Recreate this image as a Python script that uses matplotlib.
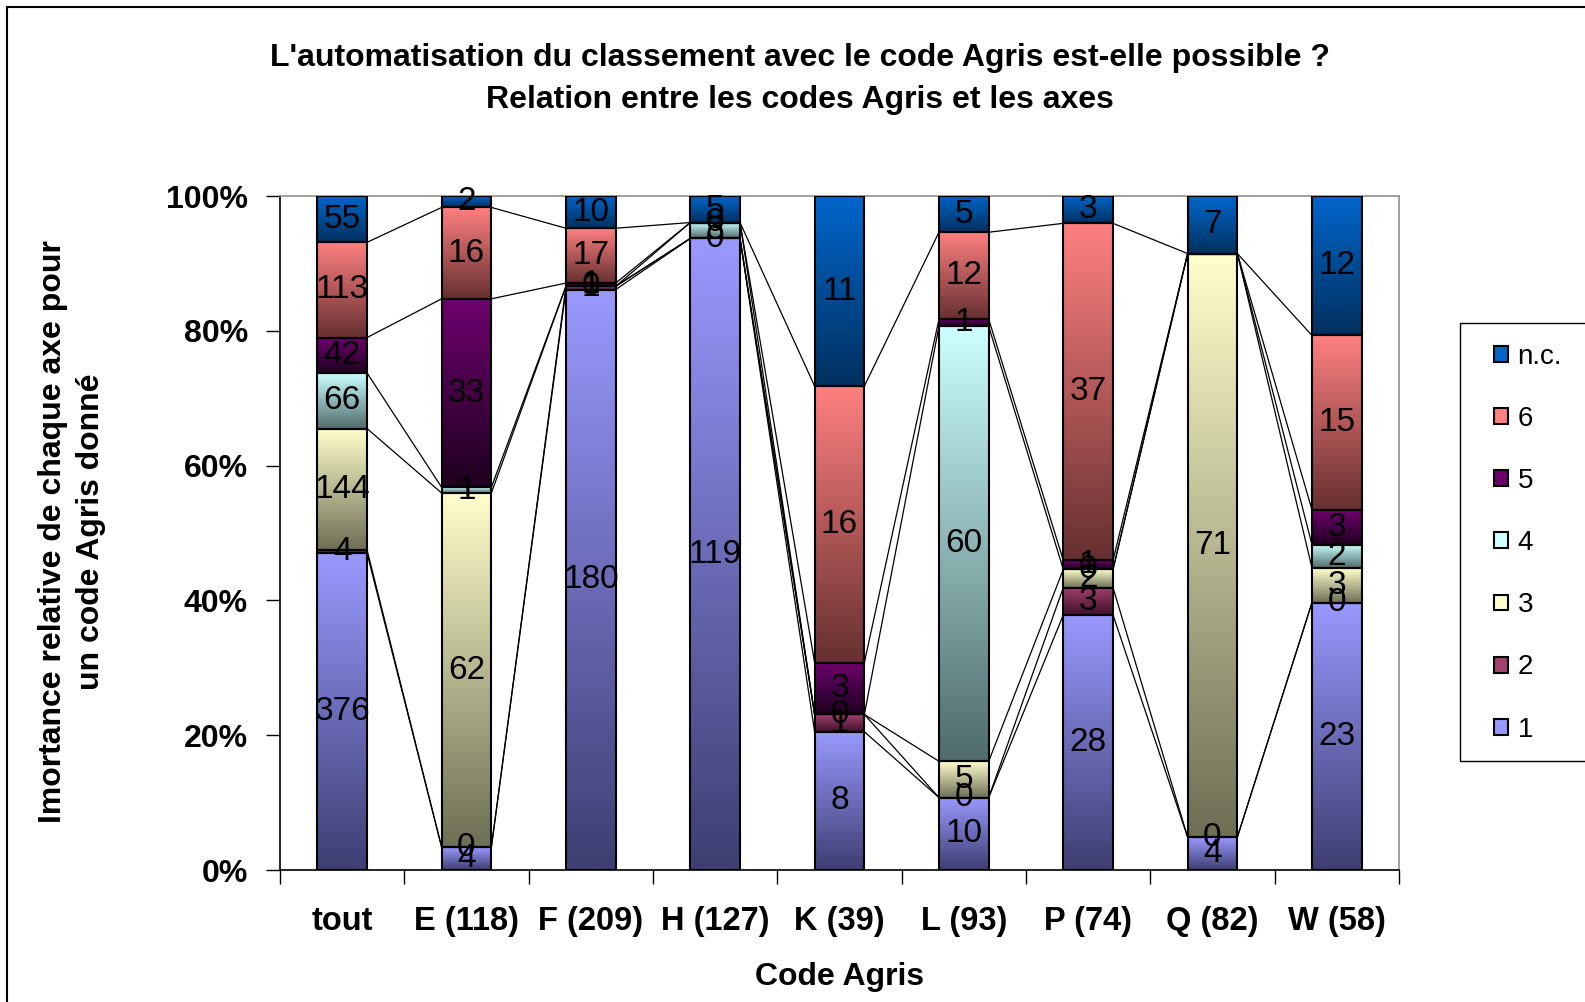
import numpy as np
import matplotlib
matplotlib.use('Agg')
import matplotlib.pyplot as plt
from matplotlib.colors import LinearSegmentedColormap
from matplotlib.patches import Rectangle, Patch
from matplotlib.ticker import FuncFormatter

plt.rcParams['font.family'] = ['Liberation Sans', 'DejaVu Sans']

# categories (Code Agris) and counts per axis, bottom to top (nan = empty cell)
nan = np.nan
categories = ['tout', 'E (118)', 'F (209)', 'H (127)', 'K (39)', 'L (93)', 'P (74)', 'Q (82)', 'W (58)']
series_names = ['1', '2', '3', '4', '5', '6', 'n.c.']
s1 = [376, 4, 180, 119, 8, 10, 28, 4, 23]
s2 = [4, 0, 1, 0, 1, 0, 3, 0, 0]
s3 = [144, 62, 0, nan, 0, 5, 2, 71, 3]
s4 = [66, 1, nan, 3, nan, 60, 0, nan, 2]
s5 = [42, 33, 1, 0, 3, 1, 1, nan, 3]
s6 = [113, 16, 17, nan, 16, 12, 37, nan, 15]
snc = [55, 2, 10, 5, 11, 5, 3, 7, 12]

# gradient colours: (top / light, bottom / dark)
grad_colors = [
    ('#9999FF', '#3E3E72'),
    ('#A3416F', '#3E1128'),
    ('#FFFFCC', '#6E6E55'),
    ('#CCFFFF', '#4F6B6B'),
    ('#6E006E', '#1E001E'),
    ('#FF8080', '#663030'),
    ('#0066CC', '#00305E'),
]

raw = np.array([s1, s2, s3, s4, s5, s6, snc], dtype=float)
counts = np.nan_to_num(raw)
totals = counts.sum(axis=0)
pct = counts / totals * 100
cum = np.cumsum(pct, axis=0)

W, H = 1585, 1002
fig = plt.figure(figsize=(W / 100, H / 100), dpi=100)
ax = fig.add_axes([280 / W, 1 - 870 / H, (1399 - 280) / W, (870 - 196) / H])

x = np.arange(len(categories))
width = 0.4
bottom = np.zeros(len(categories))
for k in range(len(series_names)):
    bars = ax.bar(x, pct[k], width, bottom=bottom, facecolor='none',
                  edgecolor='black', linewidth=1.5, zorder=3)
    cmap = LinearSegmentedColormap.from_list('g%d' % k, [grad_colors[k][1], grad_colors[k][0]])
    grad = np.linspace(0, 1, 256).reshape(-1, 1)
    for p in bars.patches:
        if p.get_height() <= 0:
            continue
        x0, y0 = p.get_x(), p.get_y()
        ax.imshow(grad, cmap=cmap, origin='lower', aspect='auto', zorder=2,
                  extent=(x0, x0 + p.get_width(), y0, y0 + p.get_height()),
                  interpolation='bilinear')
    # data labels
    for i in range(len(categories)):
        if np.isnan(raw[k][i]):
            continue
        ax.text(x[i], bottom[i] + pct[k][i] / 2, '%d' % raw[k][i],
                ha='center', va='center', fontsize=24, zorder=5, color='black')
    bottom = bottom + pct[k]

# series lines between adjacent bars
for k in range(len(series_names) - 1):
    for i in range(len(categories) - 1):
        ax.plot([x[i] + width / 2, x[i + 1] - width / 2], [cum[k][i], cum[k][i + 1]],
                color='black', linewidth=0.9, zorder=1)

ax.set_xlim(-0.5, len(categories) - 0.5)
ax.set_ylim(0, 100)

ax.set_yticks([0, 20, 40, 60, 80, 100])
ax.yaxis.set_major_formatter(FuncFormatter(lambda v, pos: '%d%%' % v))
ax.tick_params(axis='y', direction='out', length=10, width=1, pad=13, labelsize=23)
for t in ax.get_yticklabels():
    t.set_fontweight('bold')

ax.set_xticks(np.arange(len(categories) + 1) - 0.5)
ax.set_xticklabels([])
ax.set_xticks(x, minor=True)
ax.set_xticklabels(categories, minor=True, fontsize=23.5, fontweight='bold')
ax.tick_params(axis='x', which='major', direction='out', length=10, width=1)
ax.tick_params(axis='x', which='minor', length=0, pad=26)

for side in ['top', 'right']:
    ax.spines[side].set_color('#909090')
    ax.spines[side].set_linewidth(1.2)
for side in ['left', 'bottom']:
    ax.spines[side].set_color('black')
    ax.spines[side].set_linewidth(1.2)

fig.text(800 / W, 1 - 79 / H,
         "L'automatisation du classement avec le code Agris est-elle possible ?\nRelation entre les codes Agris et les axes",
         ha='center', va='center', fontsize=23, fontweight='bold', linespacing=1.5)
fig.text(840 / W, 1 - 977 / H, 'Code Agris', ha='center', va='center',
         fontsize=23, fontweight='bold')
fig.text(72 / W, 1 - 532 / H,
         'Imortance relative de chaque axe pour\nun code Agris donné',
         ha='center', va='center', rotation=90, fontsize=23, fontweight='bold',
         linespacing=1.35)

# legend (box extends past the right edge like the original)
fig.patches.append(Rectangle((1460 / W, 1 - 761 / H), 0.2, (761 - 323) / H,
                             transform=fig.transFigure, facecolor='white',
                             edgecolor='black', linewidth=1.0))
handles = [Patch(facecolor=grad_colors[k][0], edgecolor='black', linewidth=1.5,
                 label=series_names[k]) for k in range(len(series_names) - 1, -1, -1)]
fig.legend(handles=handles, loc='upper left', bbox_to_anchor=(1480 / W, 1 - 330 / H),
           frameon=False, fontsize=20, handlelength=0.5, handleheight=0.5,
           handletextpad=0.35, labelspacing=1.3, borderpad=0)

# chart area border
fig.patches.append(Rectangle((7 / W, -0.1), 1.2, 1 - 7 / H + 0.1,
                             transform=fig.transFigure, facecolor='none',
                             edgecolor='black', linewidth=1.5))

fig.savefig('out.png', dpi=100)
